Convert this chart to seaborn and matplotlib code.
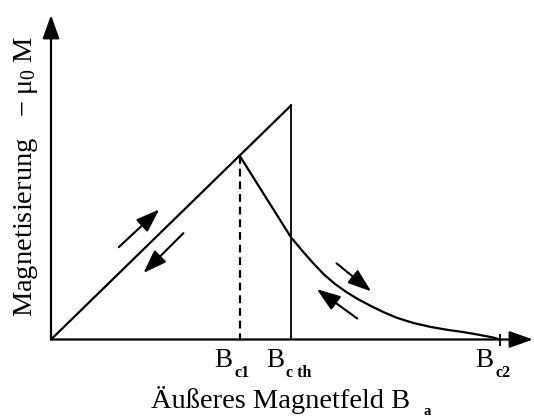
import matplotlib
matplotlib.use("Agg")
import matplotlib.pyplot as plt
import numpy as np
import pandas as pd
import seaborn as sns

# Characteristic fields (in units of B_c2)
b_c1 = 0.42
b_cth = 0.535
b_c2 = 1.0

# Mixed-state magnetisation branch from B_c1 down to B_c2
mixed_b = [0.42, 0.5345, 0.559, 0.5835, 0.608, 0.6325, 0.657, 0.6815,
           0.7105, 0.7416, 0.7706, 0.8062, 0.8441, 0.882, 0.9176, 0.9555,
           0.9844, 1.0]
mixed_m = [0.42, 0.2334, 0.2033, 0.1748, 0.1485, 0.1268, 0.109, 0.0935,
           0.0775, 0.062, 0.0495, 0.038, 0.029, 0.0222, 0.0171, 0.0103,
           0.0046, 0.0]

# Direction arrows along the branches: (tail_b, tail_m, tip_b, tip_m)
dir_tail_b = [0.151, 0.295, 0.636, 0.682]
dir_tail_m = [0.211, 0.243, 0.174, 0.048]
dir_tip_b = [0.241, 0.206, 0.713, 0.592]
dir_tip_m = [0.297, 0.152, 0.110, 0.115]

tick_subs = ["c1", "c th", "c2"]

sns.set_theme(style="ticks")
plt.rcParams["font.family"] = ["Liberation Serif", "DejaVu Serif"]
plt.rcParams["mathtext.fontset"] = "custom"
plt.rcParams["mathtext.rm"] = "Liberation Serif"
plt.rcParams["mathtext.it"] = "Liberation Serif"
plt.rcParams["mathtext.default"] = "regular"

W, H = 534, 417
fig = plt.figure(figsize=(W / 100, H / 100), dpi=100)
fig.patch.set_facecolor("white")
ox, oy, top, right = 51, 339.5, 15, 533
ax = fig.add_axes([ox / W, (H - oy) / H, (right - ox) / W, (oy - top) / H])
ax.set_facecolor("white")
ax.set_xlim(0, (right - ox) / 449)
ax.set_ylim(0, (oy - top) / 437.8)

lw = 1.6
# Meissner line up to the thermodynamic critical field, then the drop to zero
meissner = pd.DataFrame({"B": [0.0, b_cth, b_cth], "M": [0.0, b_cth, 0.0]})
sns.lineplot(data=meissner.iloc[:2], x="B", y="M", sort=False, estimator=None,
             color="black", lw=lw, ax=ax)
sns.lineplot(data=meissner.iloc[1:], x="B", y="M", sort=False, estimator=None,
             color="black", lw=1.3, ax=ax)
# Dashed marker at B_c1
sns.lineplot(x=[b_c1, b_c1], y=[b_c1, 0.0], sort=False, estimator=None,
             color="black", lw=1.6, ax=ax, dashes=False, linestyle=(0, (3.5, 2.2)))
# Mixed-state branch
mixed = pd.DataFrame({"B": mixed_b, "M": mixed_m})
sns.lineplot(data=mixed, x="B", y="M", sort=False, estimator=None,
             color="black", lw=lw, ax=ax)
for line in ax.lines:
    line.set_solid_joinstyle("round")

head = "-|>,head_length=0.9,head_width=0.32"
for tb, tm, hb, hm in zip(dir_tail_b, dir_tail_m, dir_tip_b, dir_tip_m):
    ax.annotate("", xy=(hb, hm), xytext=(tb, tm),
                arrowprops=dict(arrowstyle=head, mutation_scale=16, lw=1.5,
                                color="black", shrinkA=0, shrinkB=0))

# Coordinate axes with arrowheads
for s in ax.spines.values():
    s.set_visible(False)
for end in [(1, 0), (0, 1)]:
    ax.annotate("", xy=end, xytext=(0, 0), xycoords="axes fraction",
                arrowprops=dict(arrowstyle=head, mutation_scale=16, lw=1.6,
                                color="black", shrinkA=0, shrinkB=0),
                annotation_clip=False)

ax.set_yticks([])
ax.set_xticks([b_c2])
ax.set_xticklabels([""])
ax.tick_params(axis="x", direction="inout", length=8.6, width=1.3,
               color="black", bottom=True)
ax.set_xlabel("")
ax.set_ylabel("")

# Field labels under the axis
for pos, sub in zip([b_c1, b_cth, b_c2], tick_subs):
    ax.annotate("B", xy=(pos, 0), xycoords=("data", "axes fraction"),
                xytext=(-7, -27.5), textcoords="offset pixels",
                ha="right", va="baseline", fontsize=19.5, color="black")
    ax.annotate(sub, xy=(pos, 0), xycoords=("data", "axes fraction"),
                xytext=(-5, -37.5), textcoords="offset pixels",
                ha="left", va="baseline", fontsize=11.5, fontweight="bold",
                color="black")

fig.text(151 / W, 1 - 408 / H, "Äußeres Magnetfeld B", ha="left",
         va="baseline", fontsize=20.5, color="black")
fig.text(424 / W, 1 - 415 / H, "a", ha="left", va="baseline",
         fontsize=10.5, fontweight="bold", color="black")
fig.text(26.5 / W, 1 - 176 / H, r"Magnetisierung   $-\;\mu_{0}\;$M",
         ha="center", va="center", rotation=90, fontsize=20.5, color="black")

fig.savefig("out.png", dpi=100, facecolor="white")
